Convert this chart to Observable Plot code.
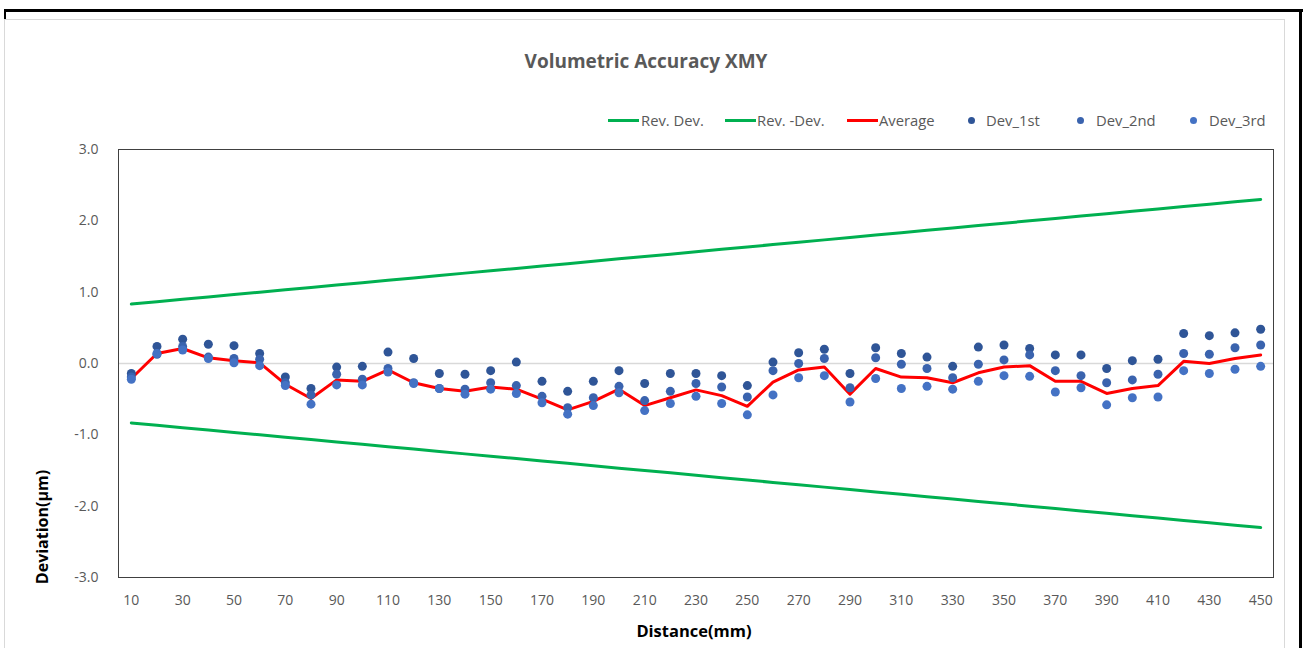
<!DOCTYPE html>
<html><head><meta charset="utf-8">
<script src="https://cdn.jsdelivr.net/npm/d3@7"></script>
<script src="https://cdn.jsdelivr.net/npm/@observablehq/plot@0.6"></script>
<style>
body{margin:0;background:#fff;}
#wrap{position:relative;width:1306px;height:648px;overflow:hidden;background:#fff;font-family:"Open Sans",sans-serif;}
#wrap svg{position:absolute;left:0;top:0;}
</style></head><body><div id="wrap"></div>
<script>
const distance = [10,20,30,40,50,60,70,80,90,100,110,120,130,140,150,160,170,180,190,200,210,220,230,240,250,260,270,280,290,300,310,320,330,340,350,360,370,380,390,400,410,420,430,440,450];
const revDev = [0.833,0.867,0.900,0.933,0.967,1.000,1.033,1.067,1.100,1.133,1.167,1.200,1.233,1.267,1.300,1.333,1.367,1.400,1.433,1.467,1.500,1.533,1.567,1.600,1.633,1.667,1.700,1.733,1.767,1.800,1.833,1.867,1.900,1.933,1.967,2.000,2.033,2.067,2.100,2.133,2.167,2.200,2.233,2.267,2.300];
const revNegDev = [-0.833,-0.867,-0.900,-0.933,-0.967,-1.000,-1.033,-1.067,-1.100,-1.133,-1.167,-1.200,-1.233,-1.267,-1.300,-1.333,-1.367,-1.400,-1.433,-1.467,-1.500,-1.533,-1.567,-1.600,-1.633,-1.667,-1.700,-1.733,-1.767,-1.800,-1.833,-1.867,-1.900,-1.933,-1.967,-2.000,-2.033,-2.067,-2.100,-2.133,-2.167,-2.200,-2.233,-2.267,-2.300];
const average = [-0.21,0.14,0.21,0.08,0.04,0.01,-0.29,-0.49,-0.23,-0.25,-0.09,-0.27,-0.35,-0.39,-0.33,-0.36,-0.50,-0.65,-0.53,-0.36,-0.59,-0.48,-0.37,-0.45,-0.60,-0.26,-0.09,-0.05,-0.43,-0.07,-0.19,-0.20,-0.27,-0.13,-0.05,-0.03,-0.25,-0.25,-0.42,-0.35,-0.31,0.03,0.00,0.07,0.12];
const dev1st = [-0.14,0.24,0.34,0.27,0.25,0.14,-0.19,-0.35,-0.05,-0.04,0.16,0.07,-0.14,-0.15,-0.10,0.02,-0.25,-0.39,-0.25,-0.10,-0.28,-0.14,-0.14,-0.17,-0.31,0.02,0.15,0.20,-0.14,0.22,0.14,0.09,-0.04,0.23,0.26,0.21,0.12,0.12,-0.07,0.04,0.06,0.42,0.39,0.43,0.48];
const dev2nd = [-0.19,0.13,0.24,0.09,0.07,0.06,-0.27,-0.44,-0.15,-0.22,-0.07,-0.27,-0.35,-0.36,-0.27,-0.31,-0.46,-0.62,-0.48,-0.32,-0.52,-0.39,-0.28,-0.33,-0.47,-0.10,0.00,0.07,-0.34,0.08,-0.01,-0.07,-0.20,-0.01,0.05,0.12,-0.10,-0.17,-0.27,-0.23,-0.15,0.14,0.13,0.22,0.26];
const dev3rd = [-0.22,0.14,0.19,0.07,0.01,-0.03,-0.31,-0.57,-0.30,-0.30,-0.12,-0.28,-0.35,-0.43,-0.36,-0.42,-0.55,-0.71,-0.59,-0.41,-0.66,-0.56,-0.46,-0.56,-0.72,-0.44,-0.20,-0.17,-0.54,-0.21,-0.35,-0.32,-0.36,-0.25,-0.17,-0.18,-0.40,-0.34,-0.58,-0.48,-0.47,-0.10,-0.14,-0.08,-0.04];
const xTicks = [10,30,50,70,90,110,130,150,170,190,210,230,250,270,290,310,330,350,370,390,410,430,450];
const yTicks = [-3,-2,-1,0,1,2,3];
const seriesNames = ["Rev. Dev.","Rev. -Dev.","Average","Dev_1st","Dev_2nd","Dev_3rd"];
const seriesColors = ["#00B050","#00B050","#FF0000","#2F5597","#3A63AE","#4472C4"];

const lineSeries = [revDev, revNegDev, average];
const dotSeries = [dev1st, dev2nd, dev3rd];
const lineRows = lineSeries.flatMap((vals, s) => vals.map((v, i) => ({x: distance[i], y: v, s: seriesNames[s]})));
const dotRows = dotSeries.flatMap((vals, s) => vals.map((v, i) => ({x: distance[i], y: v, s: seriesNames[s + 3]})));

const chart = Plot.plot({
  width: 1306, height: 648,
  marginLeft: 118, marginRight: 33, marginTop: 149, marginBottom: 71,
  style: {background: "transparent", fontFamily: "'Open Sans', sans-serif", fontSize: "14px", color: "#595959", overflow: "visible"},
  color: {domain: seriesNames, range: seriesColors},
  x: {domain: [5, 455], ticks: xTicks, tickFormat: d => String(d), tickSize: 0, tickPadding: 18, label: null},
  y: {domain: [-3, 3], ticks: yTicks, tickFormat: d => d.toFixed(1), tickSize: 0, tickPadding: 20, label: null},
  marks: [
    Plot.ruleY([0], {stroke: "#d9d9d9", strokeWidth: 1.5}),
    Plot.line(lineRows, {x: "x", y: "y", z: "s", stroke: "s", strokeWidth: 3, strokeLinejoin: "round", strokeLinecap: "round"}),
    Plot.dot(dotRows, {x: "x", y: "y", fill: "s", r: 4.5, stroke: null}),
    Plot.frame({stroke: "#404040", strokeWidth: 1})
  ]
});

const wrap = document.getElementById("wrap");
function el(tag, css, text) {
  const e = document.createElement(tag);
  e.style.cssText = css;
  if (text != null) e.textContent = text;
  wrap.appendChild(e);
  return e;
}
// chart area border
el("div", "position:absolute;left:4px;top:19px;width:1281px;height:640px;border:1px solid #d9d9d9;box-sizing:border-box;");
wrap.appendChild(chart);
// outer frame
el("div", "position:absolute;left:4px;top:9px;width:1299px;height:3px;background:#000;");
el("div", "position:absolute;left:1299px;top:9px;width:3px;height:640px;background:#000;");
el("div", "position:absolute;left:4px;top:9px;width:2px;height:10px;background:#000;");
// title
el("div", "position:absolute;left:446px;width:400px;top:48px;text-align:center;font-weight:bold;font-size:19px;color:#595959;line-height:26px;", "Volumetric Accuracy XMY");
// axis titles
el("div", "position:absolute;left:494px;width:400px;top:619px;text-align:center;font-weight:bold;font-size:16.5px;color:#000;line-height:24px;", "Distance(mm)");
el("div", "position:absolute;left:-158px;width:400px;top:515px;text-align:center;font-weight:bold;font-size:16px;color:#000;line-height:24px;transform:rotate(-90deg);", "Deviation(μm)");
// legend
const swatchX = [608, 725, 847];
const textX = [641, 757, 879, 986, 1096, 1209];
const dotX = [971, 1080, 1193];
for (let i = 0; i < 3; i++) {
  el("div", `position:absolute;left:${swatchX[i]}px;top:119px;width:31px;height:3px;background:${seriesColors[i]};`);
}
for (let i = 0; i < 3; i++) {
  el("div", `position:absolute;left:${dotX[i]-3.5}px;top:117px;width:7px;height:7px;border-radius:50%;background:${seriesColors[i+3]};`);
}
for (let i = 0; i < 6; i++) {
  el("div", `position:absolute;left:${textX[i]}px;top:111px;font-size:14.8px;color:#595959;line-height:18px;white-space:nowrap;`, seriesNames[i]);
}
</script></body></html>
